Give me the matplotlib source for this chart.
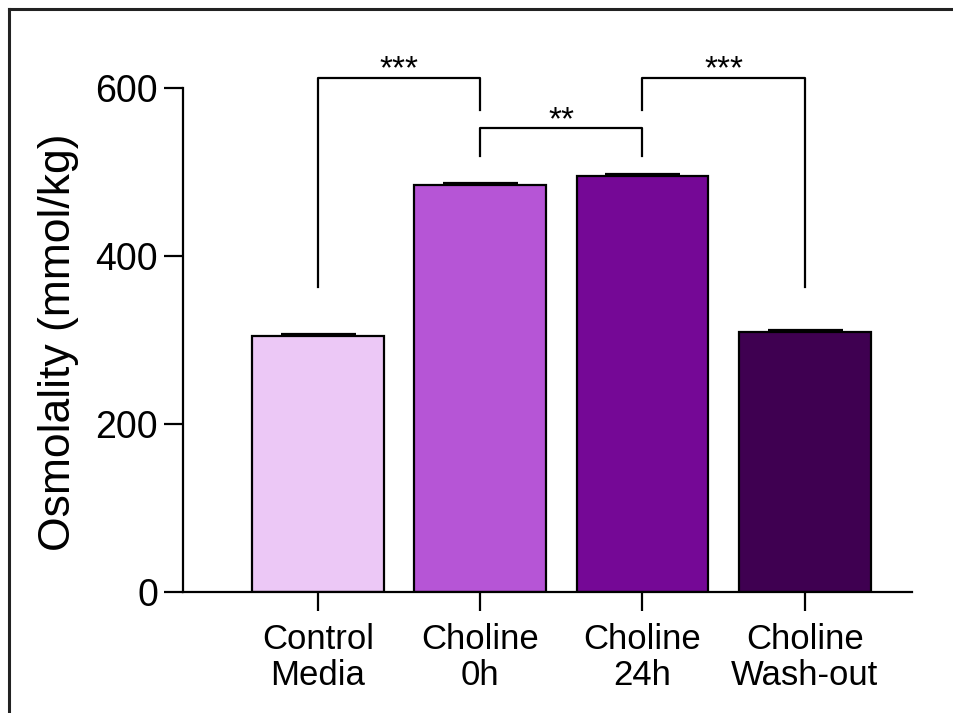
import matplotlib.pyplot as plt
from matplotlib.lines import Line2D

plt.rcParams['font.family'] = ['Liberation Sans', 'DejaVu Sans']

groups = ["Control\nMedia", "Choline\n0h", "Choline\n24h", "Choline\nWash-out"]
means = [305, 485, 495, 310]
errs = [2, 2, 2, 2]
colors = ["#ecc8f6", "#b655d6", "#750896", "#3f0051"]

# significance brackets: (left bar, right bar, bracket top, left leg end, right leg end, label)
brackets = [
    (0, 1, 612, 363, 574, "***"),
    (1, 2, 552, 519, 519, "**"),
    (2, 3, 612, 574, 363, "***"),
]

fig = plt.figure(figsize=(9.54, 7.13), dpi=100)
ax = fig.add_axes([183/954, 1-592/713, (912-183)/954, (592-40)/713])

x = list(range(len(groups)))
ax.bar(x, means, width=0.81, color=colors, edgecolor="black", linewidth=1.6, zorder=2)
ax.errorbar(x, means, yerr=errs, fmt="none", ecolor="black", elinewidth=1.6,
            capsize=27, capthick=1.6, zorder=1)

for a, b, top, la, lb, lab in brackets:
    ax.plot([a, a, b, b], [la, top, top, lb], color="black", lw=1.6, clip_on=False)
    ax.text((a+b)/2, top - 9, lab, ha="center", va="bottom", fontsize=24)

ax.set_xlim(-0.83, 3.66)
ax.set_ylim(0, 657)
ax.set_yticks([0, 200, 400, 600])
ax.set_xticks(x)
ax.set_xticklabels(groups, fontsize=25, linespacing=1.15)
ax.tick_params(axis="y", labelsize=27, length=14, width=1.6, pad=4)
ax.tick_params(axis="x", length=14, width=1.6, pad=8)
ax.spines["top"].set_visible(False)
ax.spines["right"].set_visible(False)
ax.spines["left"].set_linewidth(1.6)
ax.spines["bottom"].set_linewidth(1.6)
ax.spines["left"].set_bounds(0, 600)
ax.set_ylabel("Osmolality (mmol/kg)", fontsize=32)
ax.yaxis.set_label_coords(-0.143, 0.452)

# frame lines at top and left of the picture
fig.add_artist(Line2D([9/954, 9/954], [0, 1-9/713], color="#222222", lw=2.2))
fig.add_artist(Line2D([9/954, 1], [1-9/713, 1-9/713], color="#222222", lw=2.2))

fig.savefig("out.png", dpi=100)
